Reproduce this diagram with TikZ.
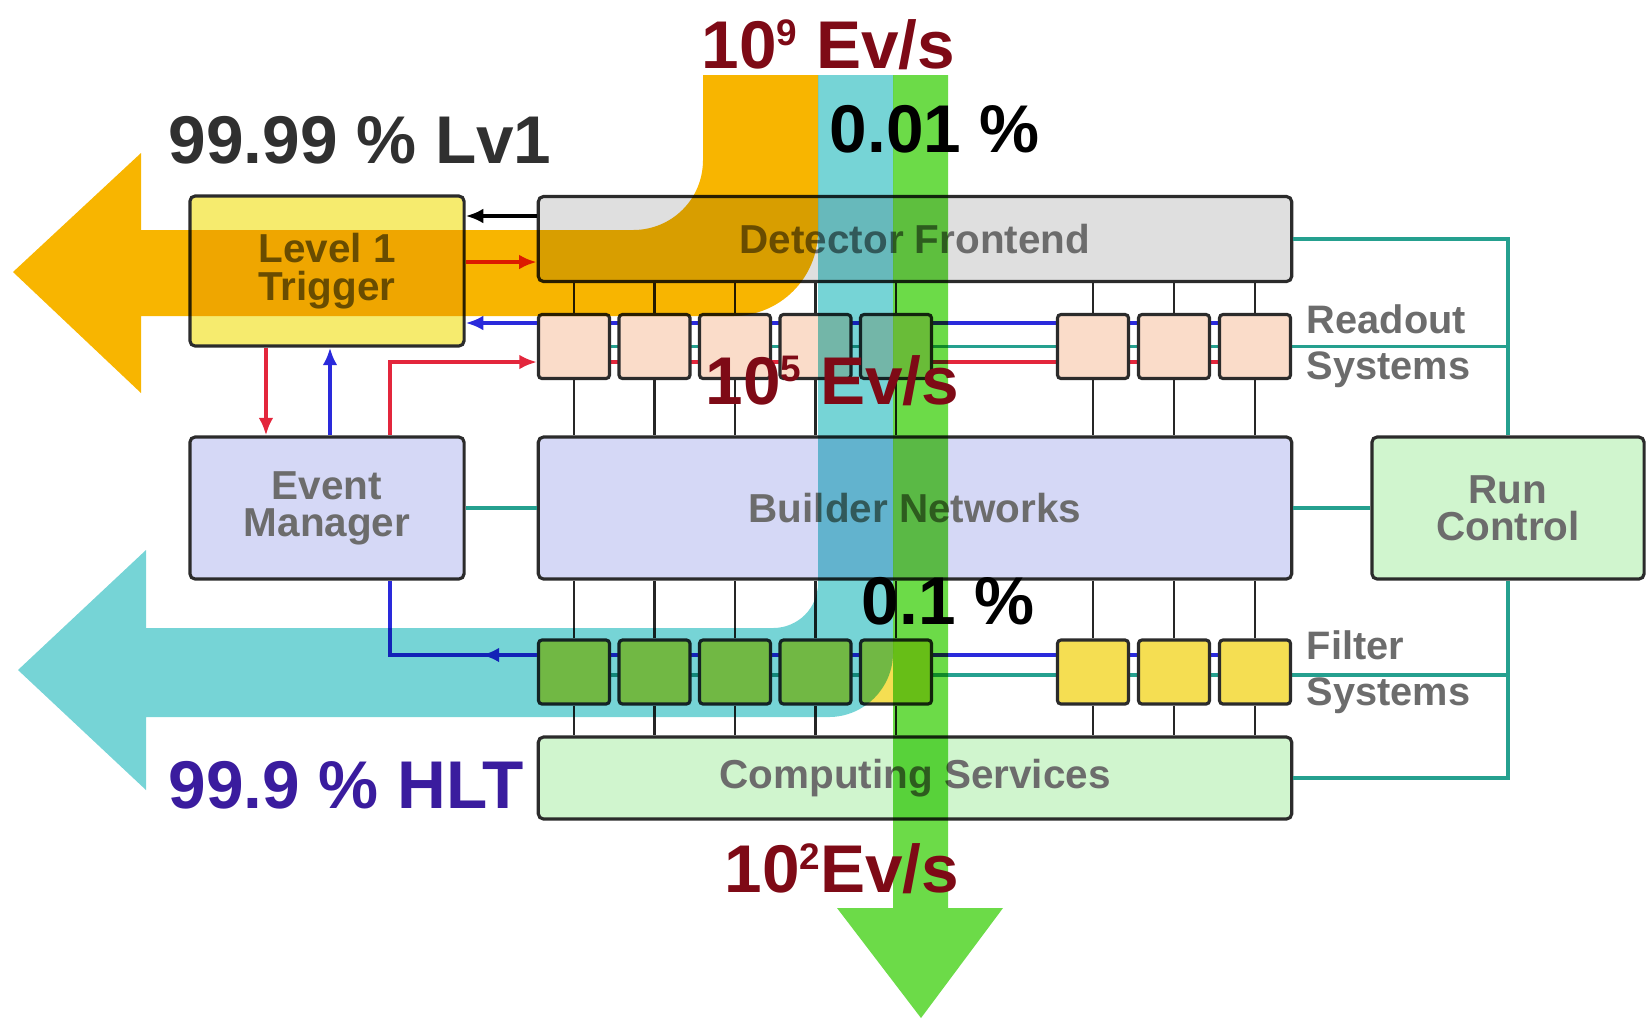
\documentclass[tikz,border=0pt]{standalone}
\usepackage{fontspec}
\setmainfont{Liberation Sans}
\usetikzlibrary{%
  arrows.meta,%
  backgrounds,% bus lines behind the units
  positioning,% wg. " of "
  decorations.markings% arrow in the middle of a line
}
\definecolor{boxline}{HTML}{2B2B2B}
\definecolor{labelgray}{HTML}{6C6C6C}
\definecolor{trigfill}{HTML}{F6EB6E}
\definecolor{detfill}{HTML}{DFDFDF}
\definecolor{rofill}{HTML}{FADCC9}
\definecolor{netfill}{HTML}{D5D8F6}
\definecolor{runfill}{HTML}{D0F5CE}
\definecolor{filfill}{HTML}{F5DE52}
\definecolor{busblue}{HTML}{2A2ADB}
\definecolor{busred}{HTML}{E3263C}
\definecolor{busteal}{HTML}{25A08F}
\definecolor{flowamber}{HTML}{F8B500}
\definecolor{flowcyan}{HTML}{76D4D6}
\definecolor{flowgreen}{HTML}{6CDB48}
\definecolor{ratered}{HTML}{7E0A16}
\definecolor{hltblue}{HTML}{3A1C9E}
\definecolor{lvgray}{HTML}{303030}
\newcommand\evexp[1]{\raisebox{6.4pt}{\fontsize{10.5}{10.5}\selectfont #1}}

\begin{document}
\begin{tikzpicture}[
    x=0.01cm, y=-0.01cm,
    box/.style={draw=boxline, line width=0.9pt, rounded corners=1.5pt,
      align=center, text=labelgray,
      font=\fontsize{11.5}{10.6}\selectfont\bfseries},
    unit/.style={draw=boxline, line width=0.9pt, rounded corners=1pt,
      minimum width=0.71cm, minimum height=0.64cm},
    side/.style={align=left, text=labelgray, inner sep=1pt,
      font=\fontsize{11.3}{13}\selectfont\bfseries},
    wire/.style={draw=black!85, line width=0.8pt},
    bus/.style={line width=1pt},
    tipped/.style={-{Latex[length=5pt,width=4.2pt]}},
    midtip/.style={postaction={decorate, decoration={markings,
      mark=at position 0.25 with {\arrow{Latex[length=5pt,width=4.2pt]}}}}},
    rate/.style={inner sep=0pt, anchor=base west,
      font=\fontsize{19.2}{22}\selectfont\bfseries}
  ]
  \useasboundingbox (0,0) rectangle (1646,1020);

  % draw boxes
  \node[box, fill=trigfill, minimum width=2.74cm, minimum height=1.5cm] at (327,271) (l1) {Level 1\\Trigger};
  \node[box, fill=detfill, minimum width=7.53cm, minimum height=0.85cm] at (915,239) (df) {Detector Frontend};
  \node[box, fill=netfill, minimum width=2.74cm, minimum height=1.42cm] at (327,508) (em) {Event\\Manager};
  \node[box, fill=netfill, minimum width=7.53cm, minimum height=1.42cm] at (915,508) (bn) {Builder Networks};
  \node[box, fill=runfill, minimum width=2.72cm, minimum height=1.42cm] at (1508,508) (rc) {Run\\Control};
  \node[box, fill=runfill, minimum width=7.53cm, minimum height=0.82cm] at (915,778) (cs) {Computing Services};

  % readout and filter units
  \foreach \n/\x in {1/574,2/654.5,3/735,4/815.5,5/896,6/1093,7/1174,8/1255}{
    \node[unit, fill=rofill] at (\x,346.5) (ro\n) {};
    \node[unit, fill=filfill] at (\x,672) (fi\n) {};}
  \node[side, right=3pt of ro8] (rolab) {Readout\\Systems};
  \node[side, right=3pt of fi8] (filab) {Filter\\Systems};

  % draw connections
  \foreach \n in {1,...,8}{
    \draw[wire] (ro\n.north) -- (ro\n.north |- df.south);
    \draw[wire] (ro\n.south) -- (ro\n.south |- bn.north);
    \draw[wire] (fi\n.north) -- (fi\n.north |- bn.south);
    \draw[wire] (fi\n.south) -- (fi\n.south |- cs.north);}
  \begin{scope}[on background layer]
    \draw[bus, draw=busblue] ([yshift=.235cm]ro1.west) -- ([yshift=.235cm]ro8.east);
    \draw[bus, draw=busteal] (ro1.west) -- (ro1.west -| rc.north);
    \draw[bus, draw=busred] ([yshift=-.155cm]ro1.west) -- ([yshift=-.155cm]ro8.east);
    \draw[bus, draw=busblue] ([yshift=.17cm]fi1.west) -- ([yshift=.17cm]fi8.east);
    \draw[bus, draw=busteal] ([yshift=-.03cm]fi1.west) -- ([yshift=-.03cm]fi1.west -| rc.south);
  \end{scope}
  \draw[bus, draw=busteal] (df.east) -| (rc.north);
  \draw[bus, draw=busteal] (rc.south) |- (cs.east);
  \draw[bus, draw=busteal] (em.east) -- (bn.west);
  \draw[bus, draw=busteal] (bn.east) -- (rc.west);

  % trigger and manager signals
  \draw[bus, tipped] ([yshift=.23cm]df.west) -- ([yshift=.23cm]df.west -| l1.east);
  \draw[bus, tipped, draw=busred] ([yshift=-.23cm]df.west -| l1.east) -- ([yshift=-.23cm]df.west);
  \draw[bus, tipped, draw=busblue] ([yshift=.235cm]ro1.west) -- ([yshift=.235cm]ro1.west -| l1.east);
  \draw[bus, tipped, draw=busred] ([xshift=-.61cm]l1.south) -- ([xshift=-.61cm]em.north);
  \draw[bus, tipped, draw=busblue] ([xshift=.03cm]em.north) -- ([xshift=.03cm]l1.south);
  \draw[bus, tipped, draw=busred] ([xshift=.63cm]em.north) |- ([yshift=-.155cm]ro1.west);
  \draw[bus, draw=busblue, midtip] ([yshift=.17cm]fi1.west) -| ([xshift=.63cm]em.south);

  % event flows
  \begin{scope}[blend mode=multiply]
    \fill[flowamber] (703,75) -- (818,75) -- (818,231)
      .. controls (818,278) and (780,316) .. (733,316) -- (141,316)
      -- (141,393) -- (13,272) -- (141,153) -- (141,230) -- (633,230)
      .. controls (672,230) and (703,199) .. (703,160) -- cycle;
    \fill[flowcyan] (818,75) -- (893,75) -- (893,653)
      .. controls (893,688) and (864,717) .. (829,717) -- (146,717)
      -- (146,790) -- (18,670) -- (146,550) -- (146,628) -- (773,628)
      .. controls (798,628) and (818,608) .. (818,583) -- cycle;
    \fill[flowgreen] (893,75) -- (948,75) -- (948,908) -- (1003,908)
      -- (921,1018) -- (837,908) -- (893,908) -- cycle;
  \end{scope}

  % rates
  \node[rate, text=lvgray] at (168,163) (lv1) {99.99 \% Lv1};
  \node[rate, text=ratered] at (701,68) (r9) {10\evexp{9} Ev/s};
  \node[rate] at (829,152) (p001) {0.01 \%};
  \node[rate, text=ratered] at (705,404) (r5) {10\evexp{5} Ev/s};
  \node[rate] at (861,624) (p01) {0.1 \%};
  \node[rate, text=hltblue] at (168,808) (hlt) {99.9 \% HLT};
  \node[rate, text=ratered] at (724,892) (r2) {10\evexp{2}Ev/s};
\end{tikzpicture}
\end{document}
